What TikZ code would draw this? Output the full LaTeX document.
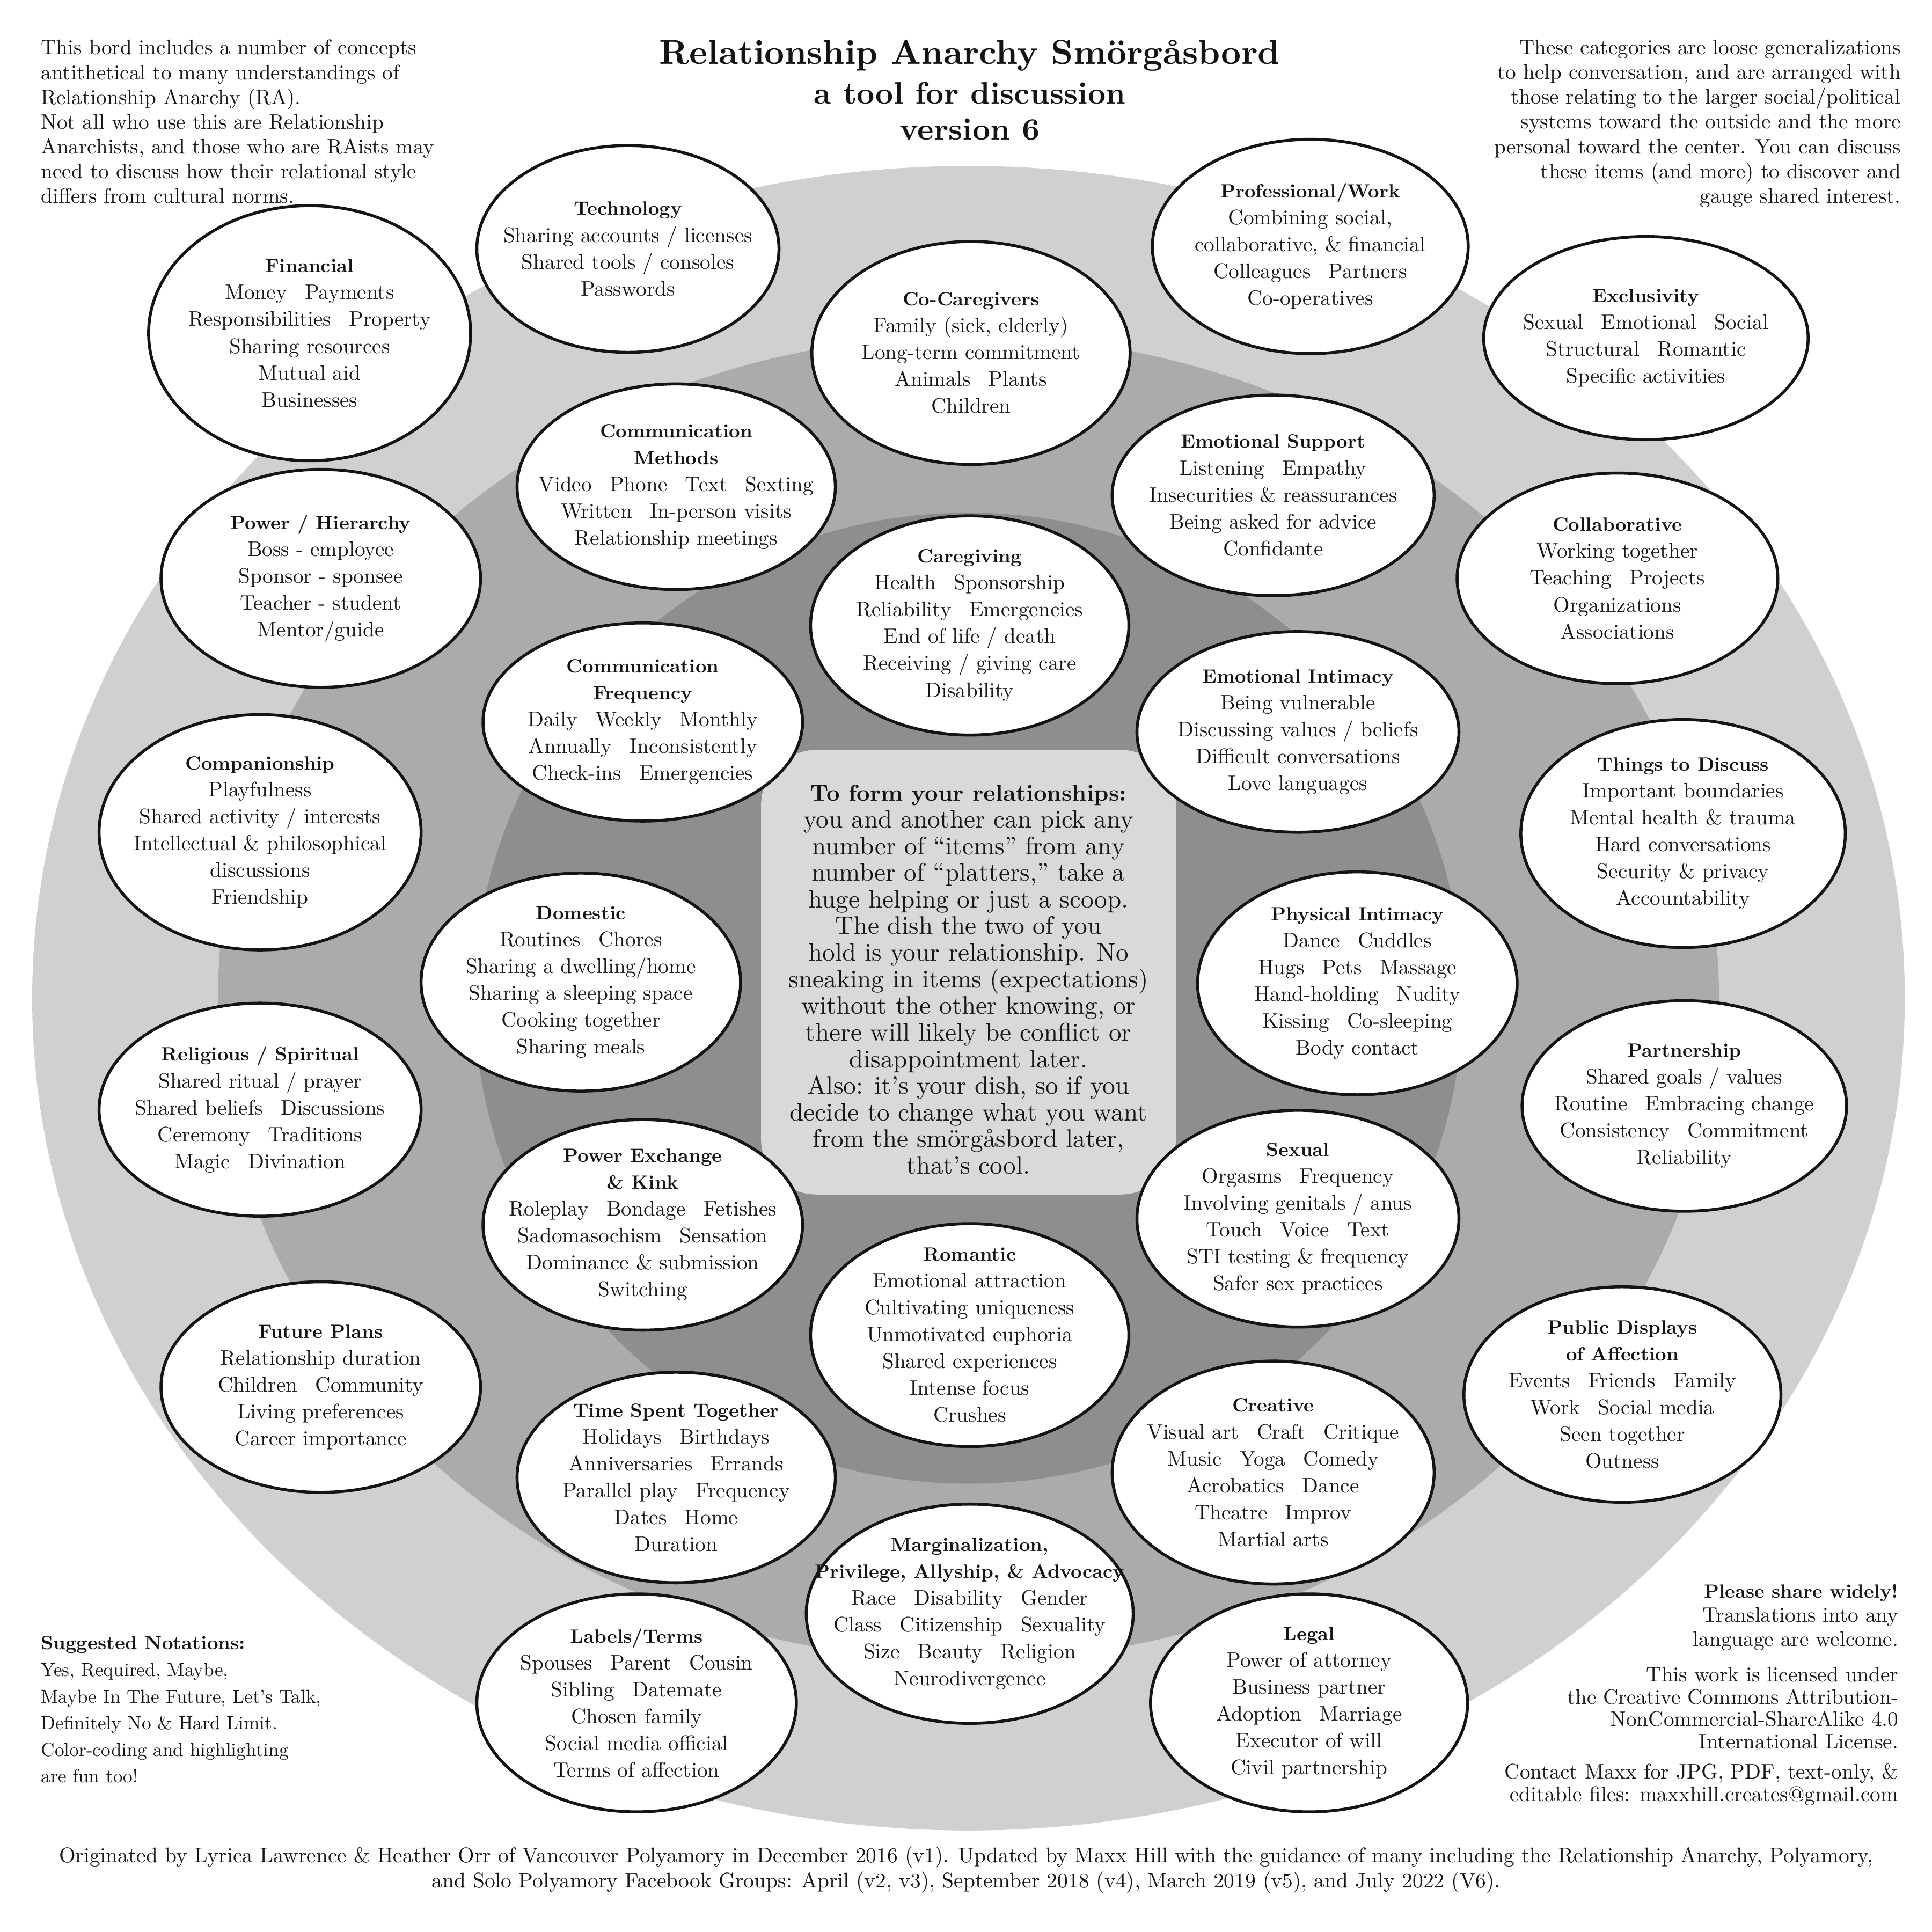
\documentclass[tikz,border=0pt]{standalone}
\usepackage{fontspec}
\setmainfont{lmroman10-regular.otf}[BoldFont=lmroman10-bold.otf, ItalicFont=lmroman10-italic.otf, BoldItalicFont=lmroman10-bolditalic.otf]
\usetikzlibrary{shapes.geometric}
\definecolor{ringA}{HTML}{D0D0D0}
\definecolor{ringB}{HTML}{ABABAB}
\definecolor{ringC}{HTML}{8E8E8E}
\definecolor{boxfill}{HTML}{D9D9D9}
\definecolor{ink}{HTML}{141414}
\tikzset{
  plate/.style={ellipse, draw=ink, line width=2.4pt, fill=white, inner sep=0pt},
  ptext/.style={align=center, font=\fontsize{17}{21.7}\selectfont, text=ink, inner sep=0pt},
  side/.style={font=\fontsize{17}{20}\selectfont, text=ink, inner sep=0pt},
  cbox/.style={rectangle, rounded corners=45pt, fill=boxfill, draw=none, inner sep=0pt},
  ttl/.style={font=\fontsize{28}{33}\bfseries\selectfont, text=ink, inner sep=0pt, anchor=base},
}
\newcommand{\platter}[6]{%
  \node[plate, minimum width=#4pt, minimum height=#5pt] (#1) at (#2,#3) {};
  \node[ptext] (#1-t) at (#1.center) {#6};}
\newcommand{\wsp}{\hspace{0.85em}}
\newcommand{\hd}[1]{{\fontsize{15.5}{21.7}\selectfont\bfseries #1}}
\begin{document}
\begin{tikzpicture}[x=1pt,y=-1pt]
\useasboundingbox (0,0) rectangle (1560,1560);
\fill[white] (0,0) rectangle (1560,1560);
% rings
\fill[ringA] (782,806) ellipse [x radius=756, y radius=672];
\fill[ringB] (782,806) ellipse [x radius=606, y radius=535];
\fill[ringC] (782,806) ellipse [x radius=399, y radius=392];
% centre dish
\node[cbox, minimum width=335pt, minimum height=359pt] (dish) at (782,785) {};
\node[align=center, font=\fontsize{20.5}{21.5}\selectfont, text=ink, inner sep=0pt] (dish-t) at (782,791) {{\fontsize{18.6}{21.5}\selectfont\bfseries To form your relationships:}\\
you and another can pick any\\
number of “items” from any\\
number of “platters,” take a\\
huge helping or just a scoop.\\
The dish the two of you\\
hold is your relationship. No\\
sneaking in items (expectations)\\
without the other knowing, or\\
there will likely be conflict or\\
disappointment later.\\
Also: it’s your dish, so if you\\
decide to change what you want\\
from the smörgåsbord later,\\
that’s cool.};
% title
\node[ttl] (title1) at (783,52) {Relationship Anarchy Smörgåsbord};
\node[ttl, font=\fontsize{25}{30}\bfseries\selectfont] (title2) at (783,84) {a tool for discussion};
\node[ttl, font=\fontsize{25}{30}\bfseries\selectfont] (title3) at (783,113) {version 6};
% side notes
\node[side, anchor=north west, align=left] (noteTL) at (33,32) {This bord includes a number of concepts\\antithetical to many understandings of\\Relationship Anarchy (RA).\\Not all who use this are Relationship\\Anarchists, and those who are RAists may\\need to discuss how their relational style\\differs from cultural norms.};
\node[side, anchor=north east, align=right] (noteTR) at (1535,32) {These categories are loose generalizations\\to help conversation, and are arranged with\\those relating to the larger social/political\\systems toward the outside and the more\\personal toward the center. You can discuss\\these items (and more) to discover and\\gauge shared interest.};
\node[side, anchor=north west, align=left, font=\fontsize{15.3}{21.5}\selectfont] (notations) at (33,1321) {{\fontsize{15.5}{21.5}\selectfont\bfseries Suggested Notations:}\\Yes, Required, Maybe,\\Maybe In The Future, Let’s Talk,\\Definitely No \& Hard Limit.\\Color-coding and highlighting\\are fun too!};
\node[side, anchor=north east, align=right, font=\fontsize{17}{19.5}\selectfont] (share) at (1533,1279) {{\fontsize{15.4}{19.5}\selectfont\bfseries Please share widely!}\\Translations into any\\language are welcome.};
\node[side, anchor=north east, align=right, font=\fontsize{17}{18}\selectfont] (license) at (1533,1346) {This work is licensed under\\the Creative Commons Attribution-\\NonCommercial-ShareAlike 4.0\\International License.};
\node[side, anchor=north east, align=right, font=\fontsize{17}{18}\selectfont] (contact) at (1533,1424) {Contact Maxx for JPG, PDF, text-only, \&\\editable files: maxxhill.creates@gmail.com};
\node[side, anchor=north, align=center, font=\fontsize{17.1}{20}\selectfont] (footer) at (780,1491) {Originated by Lyrica Lawrence \& Heather Orr of Vancouver Polyamory in December 2016 (v1). Updated by Maxx Hill with the guidance of many including the Relationship Anarchy, Polyamory,\\and Solo Polyamory Facebook Groups: April (v2, v3), September 2018 (v4), March 2019 (v5), and July 2022 (V6).};
% platters
\platter{tech}{507}{201}{244}{167}{\hd{Technology}\\Sharing accounts / licenses\\Shared tools / consoles\\Passwords}
\platter{prof}{1058}{199}{255}{173}{\hd{Professional/Work}\\Combining social,\\collaborative, \& financial\\Colleagues\wsp Partners\\Co-operatives}
\platter{fin}{250}{269}{260}{206}{\hd{Financial}\\Money\wsp Payments\\Responsibilities\wsp Property\\Sharing resources\\Mutual aid\\Businesses}
\platter{excl}{1329}{273}{262}{164}{\hd{Exclusivity}\\Sexual\wsp Emotional\wsp Social\\Structural\wsp Romantic\\Specific activities}
\platter{cocare}{784}{285}{257}{180}{\hd{Co-Caregivers}\\Family (sick, elderly)\\Long-term commitment\\Animals\wsp Plants\\Children}
\platter{cmeth}{546}{393}{257}{166}{\hd{Communication}\\\hd{Methods}\\Video\wsp Phone\wsp Text\wsp Sexting\\Written\wsp In-person visits\\Relationship meetings}
\platter{esup}{1028}{400}{260}{162}{\hd{Emotional Support}\\Listening\wsp Empathy\\Insecurities \& reassurances\\Being asked for advice\\Confidante}
\platter{power}{259}{467}{258}{176}{\hd{Power / Hierarchy}\\Boss - employee\\Sponsor - sponsee\\Teacher - student\\Mentor/guide}
\platter{collab}{1306}{467}{259}{170}{\hd{Collaborative}\\Working together\\Teaching\wsp Projects\\Organizations\\Associations}
\platter{care}{783}{505}{257}{177}{\hd{Caregiving}\\Health\wsp Sponsorship\\Reliability\wsp Emergencies\\End of life / death\\Receiving / giving care\\Disability}
\platter{cfreq}{519}{583}{258}{160}{\hd{Communication}\\\hd{Frequency}\\Daily\wsp Weekly\wsp Monthly\\Annually\wsp Inconsistently\\Check-ins\wsp Emergencies}
\platter{eint}{1048}{591}{260}{162}{\hd{Emotional Intimacy}\\Being vulnerable\\Discussing values / beliefs\\Difficult conversations\\Love languages}
\platter{comp}{210}{672}{260}{190}{\hd{Companionship}\\Playfulness\\Shared activity / interests\\Intellectual \& philosophical\\discussions\\Friendship}
\platter{things}{1359}{673}{262}{184}{\hd{Things to Discuss}\\Important boundaries\\Mental health \& trauma\\Hard conversations\\Security \& privacy\\Accountability}
\platter{dom}{469}{793}{258}{176}{\hd{Domestic}\\Routines\wsp Chores\\Sharing a dwelling/home\\Sharing a sleeping space\\Cooking together\\Sharing meals}
\platter{phys}{1096}{794}{258}{180}{\hd{Physical Intimacy}\\Dance\wsp Cuddles\\Hugs\wsp Pets\wsp Massage\\Hand-holding\wsp Nudity\\Kissing\wsp Co-sleeping\\Body contact}
\platter{relig}{210}{896}{260}{172}{\hd{Religious / Spiritual}\\Shared ritual / prayer\\Shared beliefs\wsp Discussions\\Ceremony\wsp Traditions\\Magic\wsp Divination}
\platter{partner}{1360}{893}{262}{170}{\hd{Partnership}\\Shared goals / values\\Routine\wsp Embracing change\\Consistency\wsp Commitment\\Reliability}
\platter{pex}{519}{989}{258}{170}{\hd{Power Exchange}\\\hd{\& Kink}\\Roleplay\wsp Bondage\wsp Fetishes\\Sadomasochism\wsp Sensation\\Dominance \& submission\\Switching}
\platter{sex}{1048}{984}{260}{175}{\hd{Sexual}\\Orgasms\wsp Frequency\\Involving genitals / anus\\Touch\wsp Voice\wsp Text\\STI testing \& frequency\\Safer sex practices}
\platter{rom}{783}{1078}{257}{180}{\hd{Romantic}\\Emotional attraction\\Cultivating uniqueness\\Unmotivated euphoria\\Shared experiences\\Intense focus\\Crushes}
\platter{future}{259}{1120}{258}{170}{\hd{Future Plans}\\Relationship duration\\Children\wsp Community\\Living preferences\\Career importance}
\platter{pda}{1310}{1126}{256}{174}{\hd{Public Displays}\\\hd{of Affection}\\Events\wsp Friends\wsp Family\\Work\wsp Social media\\Seen together\\Outness}
\platter{time}{546}{1193}{257}{170}{\hd{Time Spent Together}\\Holidays\wsp Birthdays\\Anniversaries\wsp Errands\\Parallel play\wsp Frequency\\Dates\wsp Home\\Duration}
\platter{creat}{1028}{1189}{260}{180}{\hd{Creative}\\Visual art\wsp Craft\wsp Critique\\Music\wsp Yoga\wsp Comedy\\Acrobatics\wsp Dance\\Theatre\wsp Improv\\Martial arts}
\platter{marg}{783}{1303}{264}{177}{\hd{Marginalization,}\\\hd{Privilege, Allyship, \& Advocacy}\\Race\wsp Disability\wsp Gender\\Class\wsp Citizenship\wsp Sexuality\\Size\wsp Beauty\wsp Religion\\Neurodivergence}
\platter{labels}{514}{1375}{258}{176}{\hd{Labels/Terms}\\Spouses\wsp Parent\wsp Cousin\\Sibling\wsp Datemate\\Chosen family\\Social media official\\Terms of affection}
\platter{legal}{1057}{1375}{256}{176}{\hd{Legal}\\Power of attorney\\Business partner\\Adoption\wsp Marriage\\Executor of will\\Civil partnership}
\end{tikzpicture}
\end{document}
